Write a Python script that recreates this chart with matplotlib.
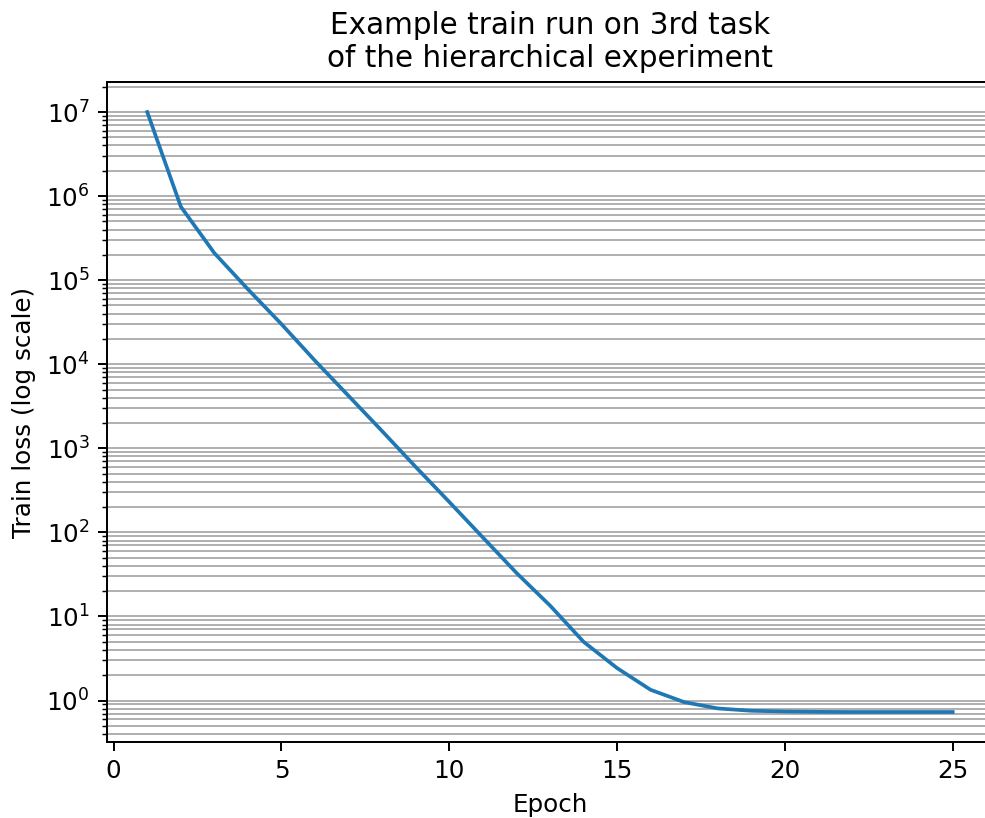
import matplotlib
matplotlib.use("Agg")
import matplotlib.pyplot as plt

# train loss per epoch
epochs = list(range(1, 26))
train_loss = [1.0e7, 7.5e5, 2.1e5, 7.8e4, 3.0e4, 1.1e4, 4.2e3, 1.6e3, 6.0e2, 2.3e2,
              8.7e1, 3.3e1, 1.35e1, 5.0, 2.43, 1.34, 0.957, 0.805, 0.755, 0.74,
              0.733, 0.73, 0.73, 0.73, 0.73]

dpi = 177
fig = plt.figure(figsize=(985 / dpi, 818 / dpi), dpi=dpi)
ax = fig.add_axes([0.1086, 0.0929, 0.8995, 0.8068])

ax.plot(epochs, train_loss)
ax.set_yscale("log")
ax.grid(True, which="both", axis="y")
ax.set_xlabel("Epoch")
ax.set_ylabel("Train loss (log scale)")
ax.set_title("Example train run on 3rd task\nof the hierarchical experiment")

fig.savefig("out.png", dpi=dpi)
